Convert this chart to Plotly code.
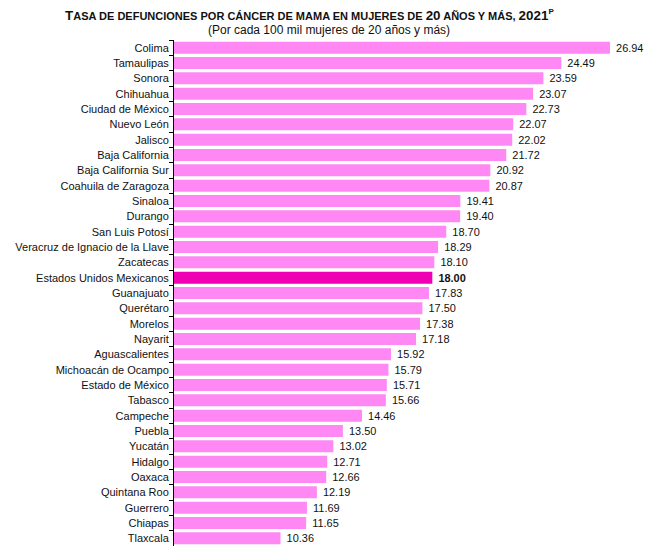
import plotly.graph_objects as go

states = ["Colima", "Tamaulipas", "Sonora", "Chihuahua", "Ciudad de México", "Nuevo León",
          "Jalisco", "Baja California", "Baja California Sur", "Coahuila de Zaragoza",
          "Sinaloa", "Durango", "San Luis Potosí", "Veracruz de Ignacio de la Llave",
          "Zacatecas", "Estados Unidos Mexicanos", "Guanajuato", "Querétaro", "Morelos",
          "Nayarit", "Aguascalientes", "Michoacán de Ocampo", "Estado de México", "Tabasco",
          "Campeche", "Puebla", "Yucatán", "Hidalgo", "Oaxaca", "Quintana Roo", "Guerrero",
          "Chiapas", "Tlaxcala"]
rates = [26.94, 24.49, 23.59, 23.07, 22.73, 22.07, 22.02, 21.72, 20.92, 20.87,
         19.41, 19.40, 18.70, 18.29, 18.10, 18.00, 17.83, 17.50, 17.38, 17.18,
         15.92, 15.79, 15.71, 15.66, 14.46, 13.50, 13.02, 12.71, 12.66, 12.19,
         11.69, 11.65, 10.36]
national = "Estados Unidos Mexicanos"

colors = ["#F000B4" if s == national else "#FF88F4" for s in states]
texts = [f"<b>{v:.2f}</b>" if s == national else f"{v:.2f}" for s, v in zip(states, rates)]

FONT = "Liberation Sans, Arial, sans-serif"

fig = go.Figure(go.Bar(
    x=rates, y=states, orientation="h",
    marker=dict(color=colors, line=dict(width=0)),
    text=texts, texttemplate="\u00a0%{text}", textposition="outside", cliponaxis=False,
    textfont=dict(family=FONT, size=11, color="#111"),
    hoverinfo="skip",
))

fig.update_layout(
    width=645, height=542,
    margin=dict(l=166, r=16, t=32, b=4),
    paper_bgcolor="white", plot_bgcolor="white",
    bargap=0.22,
    showlegend=False,
    font=dict(family=FONT, size=11, color="#111"),
)
fig.update_xaxes(range=[5, 28.3], visible=False, showgrid=False, zeroline=False)
fig.update_yaxes(
    range=[32.5, -0.5], showline=True, linecolor="black", linewidth=1,
    ticks="outside", tickson="boundaries", ticklen=4, tickcolor="black",
    showgrid=False, tickfont=dict(size=11, color="#111"), ticklabelstandoff=2,
)

big = 13.4
sm = 11
def s(t):
    return f"<span style='font-size:{sm}px'>{t}</span>"
def b(t):
    return f"<span style='font-size:{big}px'>{t}</span>"
title = ("<b>" + b("T") + s("ASA DE DEFUNCIONES POR CÁNCER DE MAMA EN MUJERES DE ") + b("20")
         + s(" AÑOS Y MÁS, ") + b("2021") + "<sup><span style='font-size:8px'>P</span></sup></b>")
fig.add_annotation(text=title, xref="paper", yref="paper", x=0.292, xanchor="center",
                   y=1.0, yshift=25, yanchor="middle", showarrow=False,
                   font=dict(family=FONT, color="#111", size=big))
fig.add_annotation(text="(Por cada 100 mil mujeres de 20 años y más)", xref="paper", yref="paper",
                   x=0.335, xanchor="center", y=1.0, yshift=10, yanchor="middle", showarrow=False,
                   font=dict(family=FONT, color="#111", size=12))

fig.write_html("out.html")
